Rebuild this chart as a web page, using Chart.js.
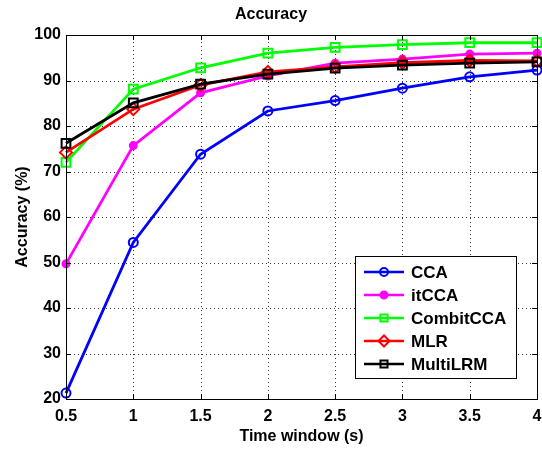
<!DOCTYPE html>
<html>
<head>
<meta charset="utf-8">
<script src="https://cdn.jsdelivr.net/npm/chart.js@4.4.0/dist/chart.umd.min.js"></script>
<style>
  html, body { margin: 0; padding: 0; background: #fff; }
  #wrap { width: 542px; height: 449px; }
</style>
</head>
<body>
<div id="wrap"><canvas id="accChart" width="542" height="449"></canvas></div>
<script>
// Data
const timeWindows = [0.5, 1, 1.5, 2, 2.5, 3, 3.5, 4];
const cca       = [21.3, 54.4, 73.8, 83.3, 85.6, 88.3, 90.8, 92.3];
const itcca     = [49.7, 75.7, 87.3, 91.0, 93.8, 94.7, 95.8, 96.0];
const combitcca = [72.0, 88.1, 92.8, 96.0, 97.3, 97.9, 98.3, 98.3];
const mlr       = [74.2, 83.7, 89.0, 91.9, 93.0, 93.9, 94.4, 94.3];
const multilrm  = [76.2, 85.1, 89.2, 91.4, 92.7, 93.4, 93.8, 94.1];
const xTicks = [0.5, 1, 1.5, 2, 2.5, 3, 3.5, 4];
const yTicks = [20, 30, 40, 50, 60, 70, 80, 90, 100];

const FONT = 'Liberation Sans, Arial, Helvetica, sans-serif';

function toPoints(vals) {
    return timeWindows.map((t, i) => ({ x: t, y: vals[i] }));
}

const series = [
    { label: 'CCA', data: cca, color: '#0000ff', style: 'circle', fill: false, r: 4.5, lr: 4 },
    { label: 'itCCA', data: itcca, color: '#ff00ff', style: 'circle', fill: true, r: 3.5, lr: 3.5 },
    { label: 'CombitCCA', data: combitcca, color: '#00ff00', style: 'rect', fill: false, r: 6.2, lr: 5 },
    { label: 'MLR', data: mlr, color: '#ff0000', style: 'rectRot', fill: false, r: 6, lr: 5.5 },
    { label: 'MultiLRM', data: multilrm, color: '#000000', style: 'rect', fill: false, r: 6.2, lr: 5 }
];

// dotted grid under the data
const dottedGrid = {
    id: 'dottedGrid',
    beforeDatasetsDraw(chart) {
        const ctx = chart.ctx;
        const a = chart.chartArea;
        const xs = chart.scales.x, ys = chart.scales.y;
        ctx.save();
        ctx.strokeStyle = '#333';
        ctx.lineWidth = 1;
        ctx.setLineDash([1, 3]);
        ctx.beginPath();
        xTicks.forEach(v => {
            const px = Math.round(xs.getPixelForValue(v)) + 0.5;
            ctx.moveTo(px, a.bottom); ctx.lineTo(px, a.top);
        });
        yTicks.forEach(v => {
            const py = Math.round(ys.getPixelForValue(v)) + 0.5;
            ctx.moveTo(a.left, py); ctx.lineTo(a.right, py);
        });
        ctx.stroke();
        ctx.restore();
    }
};

// MATLAB-like box, inward ticks and a boxed legend
const matlabFrame = {
    id: 'matlabFrame',
    afterDatasetsDraw(chart) {
        const ctx = chart.ctx;
        const a = chart.chartArea;
        const xs = chart.scales.x, ys = chart.scales.y;
        ctx.save();
        ctx.strokeStyle = '#000';
        ctx.lineWidth = 1;
        ctx.strokeRect(Math.round(a.left) + 0.5, Math.round(a.top) + 0.5,
            Math.round(a.right - a.left), Math.round(a.bottom - a.top));
        const tl = 5;
        ctx.beginPath();
        xTicks.forEach(v => {
            const px = Math.round(xs.getPixelForValue(v)) + 0.5;
            ctx.moveTo(px, a.bottom); ctx.lineTo(px, a.bottom - tl);
            ctx.moveTo(px, a.top); ctx.lineTo(px, a.top + tl);
        });
        yTicks.forEach(v => {
            const py = Math.round(ys.getPixelForValue(v)) + 0.5;
            ctx.moveTo(a.left, py); ctx.lineTo(a.left + tl, py);
            ctx.moveTo(a.right, py); ctx.lineTo(a.right - tl, py);
        });
        ctx.stroke();

        // legend
        const lx = 355, ly = 256, lw = 161, lh = 122;
        ctx.fillStyle = '#fff';
        ctx.fillRect(lx, ly, lw, lh);
        ctx.strokeRect(lx + 0.5, ly + 0.5, lw, lh);
        ctx.font = 'bold 17px ' + FONT;
        ctx.textBaseline = 'middle';
        ctx.textAlign = 'left';
        series.forEach((s, i) => {
            const cy = ly + 16 + i * 23;
            ctx.strokeStyle = s.color;
            ctx.lineWidth = 2.5;
            ctx.beginPath();
            ctx.moveTo(364, cy); ctx.lineTo(404, cy);
            ctx.stroke();
            ctx.fillStyle = s.fill ? s.color : 'rgba(0,0,0,0)';
            ctx.lineWidth = 2;
            Chart.helpers.drawPoint(ctx, {
                pointStyle: s.style, radius: s.lr, borderWidth: 2, rotation: 0
            }, 384, cy);
            ctx.fillStyle = '#000';
            ctx.fillText(s.label, 411, cy + 1);
        });
        ctx.restore();
    }
};

const tickFont = { family: FONT, size: 16, weight: 'bold' };

const ctx = document.getElementById('accChart').getContext('2d');
const chart = new Chart(ctx, {
    type: 'line',
    data: {
        datasets: series.map((s, i) => ({
            label: s.label,
            data: toPoints(s.data),
            borderColor: s.color,
            backgroundColor: s.fill ? s.color : 'rgba(0,0,0,0)',
            pointBorderColor: s.color,
            pointBackgroundColor: s.fill ? s.color : 'rgba(0,0,0,0)',
            pointStyle: s.style,
            pointRadius: s.r,
            pointBorderWidth: 2,
            borderWidth: 2.8,
            tension: 0,
            clip: false,
            order: series.length - i
        }))
    },
    options: {
        responsive: false,
        animation: false,
        layout: { autoPadding: false, padding: { left: 0, right: 0, top: 0, bottom: 0 } },
        plugins: {
            legend: { display: false },
            tooltip: { enabled: false },
            title: {
                display: true,
                text: 'Accuracy',
                color: '#000',
                font: tickFont,
                padding: { top: 5, bottom: 10.8 }
            }
        },
        scales: {
            x: {
                type: 'linear',
                min: 0.5,
                max: 4,
                afterBuildTicks: scale => { scale.ticks = xTicks.map(v => ({ value: v })); },
                afterFit: scale => {
                    scale.height = 50;
                    scale.paddingRight = 5;
                },
                ticks: {
                    color: '#000',
                    font: tickFont,
                    padding: 0,
                    maxRotation: 0,
                    callback: v => String(v)
                },
                grid: { display: false },
                border: { display: false },
                title: {
                    display: true,
                    text: 'Time window (s)',
                    color: '#000',
                    font: tickFont,
                    padding: { top: 0, bottom: 3 }
                }
            },
            y: {
                type: 'linear',
                min: 20,
                max: 100,
                afterBuildTicks: scale => { scale.ticks = yTicks.map(v => ({ value: v })); },
                afterFit: scale => { scale.width = 66; },
                ticks: {
                    color: '#000',
                    font: tickFont,
                    padding: -3,
                    callback: v => String(v)
                },
                grid: { display: false },
                border: { display: false },
                title: {
                    display: true,
                    text: 'Accuracy (%)',
                    color: '#000',
                    font: tickFont,
                    padding: { top: 12.5, bottom: 0 }
                }
            }
        }
    },
    plugins: [dottedGrid, matlabFrame]
});
</script>
</body>
</html>
